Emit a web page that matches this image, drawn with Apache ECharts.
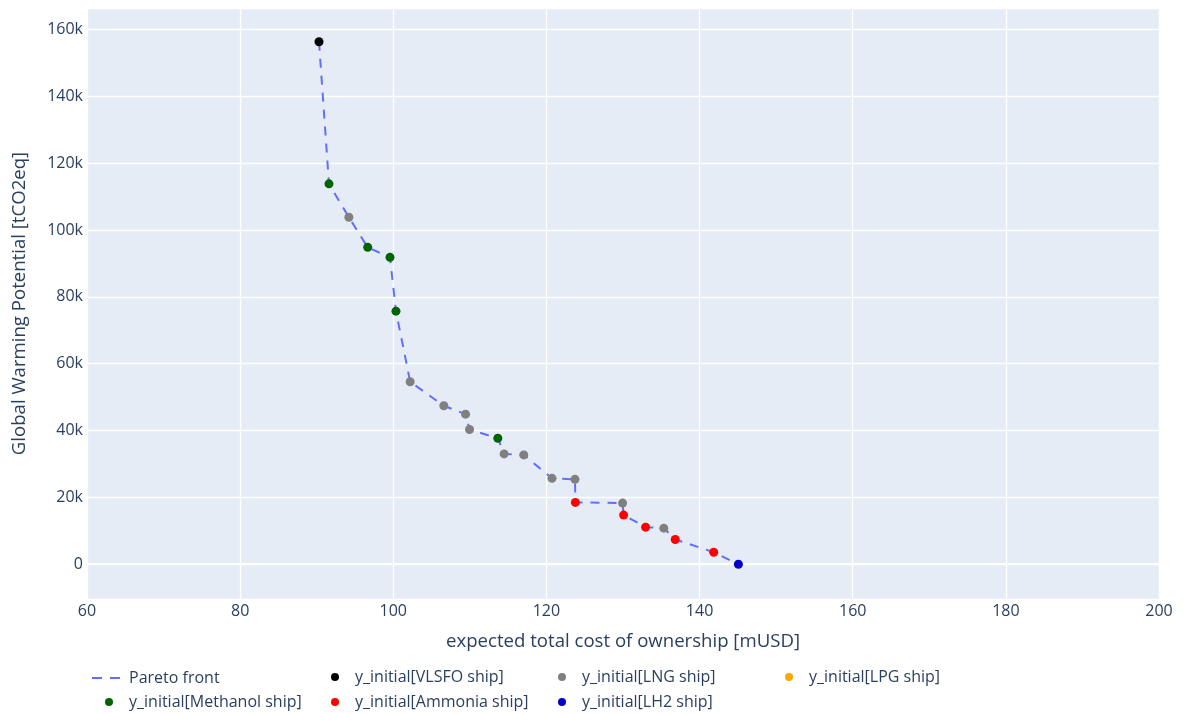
<!DOCTYPE html>
<html>
<head>
<meta charset="utf-8">
<style>
  html, body { margin: 0; padding: 0; background: #ffffff; }
  #chart { width: 1184px; height: 714px; }
</style>
<script src="https://cdn.jsdelivr.net/npm/echarts@6/dist/echarts.min.js"></script>
</head>
<body>
<div id="chart"></div>
<script>
// ---- data ----
const paretoCost = [90.3, 91.6, 94.2, 96.66, 99.57, 100.35, 102.2, 106.6, 109.44, 109.96, 113.65, 114.47, 117.04, 120.73, 123.73, 123.78, 129.95, 130.08, 132.95, 135.33, 136.82, 141.85, 145.07];
const paretoGwp  = [156300, 113800, 103800, 94800, 91800, 75700, 54600, 47400, 44900, 40300, 37700, 33000, 32700, 25700, 25400, 18500, 18300, 14700, 11100, 10800, 7400, 3600, 0];

const vlsfoCost = [90.3];
const vlsfoGwp  = [156300];
const lngCost = [94.2, 102.2, 106.6, 109.44, 109.96, 114.47, 117.04, 120.73, 123.73, 129.95, 135.33];
const lngGwp  = [103800, 54600, 47400, 44900, 40300, 33000, 32700, 25700, 25400, 18300, 10800];
const lpgCost = [];
const lpgGwp  = [];
const methanolCost = [91.6, 96.66, 99.57, 100.35, 113.65];
const methanolGwp  = [113800, 94800, 91800, 75700, 37700];
const ammoniaCost = [123.78, 130.08, 132.95, 136.82, 141.85];
const ammoniaGwp  = [18500, 14700, 11100, 7400, 3600];
const lh2Cost = [145.07];
const lh2Gwp  = [0];

const xTicks = [60, 80, 100, 120, 140, 160, 180, 200];
const yTicks = [0, 20000, 40000, 60000, 80000, 100000, 120000, 140000, 160000];

const seriesNames = ['Pareto front', 'y_initial[VLSFO ship]', 'y_initial[LNG ship]', 'y_initial[LPG ship]',
                     'y_initial[Methanol ship]', 'y_initial[Ammonia ship]', 'y_initial[LH2 ship]'];

// ---- build ----
const zip = (xs, ys) => xs.map((x, i) => [x, ys[i]]);
const FONT = '"Open Sans", "Noto Sans", sans-serif';
const TXT = '#2a3f5f';

function scatter(name, xs, ys, color) {
  return {
    name: name, type: 'scatter', data: zip(xs, ys),
    symbol: 'circle', symbolSize: 9,
    itemStyle: { color: color, opacity: 1 },
    z: 3
  };
}

function legendAt(name, left, top, isLine) {
  return {
    data: [isLine ? { name: name, icon: 'path://M0,0h10v2h-10z M18,0h10v2h-10z' } : name],
    left: left, top: top, orient: 'horizontal',
    itemWidth: isLine ? 28 : 30, itemHeight: isLine ? 2.5 : 8, padding: 0, itemGap: 0,
    textStyle: { fontFamily: FONT, fontSize: 16, color: TXT, padding: [0, 0, 0, isLine ? 4 : 0] },
    selectedMode: false
  };
}

const chart = echarts.init(document.getElementById('chart'), null, { renderer: 'canvas' });
chart.setOption({
  backgroundColor: '#ffffff',
  animation: false,
  textStyle: { fontFamily: FONT },
  grid: {
    left: 87, right: 25, top: 8, bottom: 115,
    show: true, backgroundColor: '#E5ECF6', borderWidth: 0
  },
  xAxis: {
    type: 'value', min: xTicks[0], max: xTicks[xTicks.length - 1], interval: 20,
    name: 'expected total cost of ownership [mUSD]', nameLocation: 'middle', nameGap: 33,
    nameTextStyle: { fontFamily: FONT, fontSize: 18.6, color: TXT },
    axisLine: { show: false }, axisTick: { show: false },
    axisLabel: { fontFamily: FONT, fontSize: 16, color: TXT, margin: 4 },
    splitLine: { show: true, lineStyle: { color: '#ffffff', width: 1.3 } }
  },
  yAxis: {
    type: 'value', min: -10400, max: 166400, splitNumber: 9,
    name: 'Global Warming Potential [tCO2eq]', nameLocation: 'middle', nameGap: 58,
    nameTextStyle: { fontFamily: FONT, fontSize: 18.6, color: TXT },
    axisLine: { show: false }, axisTick: { show: false },
    axisLabel: {
      fontFamily: FONT, fontSize: 16, color: TXT, margin: 4,
      showMinLabel: false, showMaxLabel: false,
      formatter: function (v) {
        if (yTicks.indexOf(v) < 0) return '';
        return v === 0 ? '0' : (v / 1000) + 'k';
      }
    },
    splitLine: { show: true, lineStyle: { color: '#ffffff', width: 1.3 } }
  },
  legend: [
    legendAt(seriesNames[0], 92, 670, true),
    legendAt(seriesNames[1], 331, 669, false),
    legendAt(seriesNames[2], 558, 669, false),
    legendAt(seriesNames[3], 785, 669, false),
    legendAt(seriesNames[4], 105, 694, false),
    legendAt(seriesNames[5], 331, 694, false),
    legendAt(seriesNames[6], 558, 694, false)
  ],
  series: [
    {
      name: seriesNames[0], type: 'line', data: zip(paretoCost, paretoGwp),
      showSymbol: false, symbol: 'none',
      lineStyle: { color: '#636efa', width: 2, type: [9, 8] },
      itemStyle: { color: '#636efa' },
      z: 2,
      markLine: {
        silent: true, symbol: 'none', label: { show: false },
        lineStyle: { color: '#ffffff', width: 2.2, type: 'solid' },
        data: [{ yAxis: 0 }], z: 1
      }
    },
    scatter(seriesNames[1], vlsfoCost, vlsfoGwp, '#000000'),
    scatter(seriesNames[2], lngCost, lngGwp, '#808080'),
    scatter(seriesNames[3], lpgCost, lpgGwp, '#FFA500'),
    scatter(seriesNames[4], methanolCost, methanolGwp, '#006400'),
    scatter(seriesNames[5], ammoniaCost, ammoniaGwp, '#FF0000'),
    scatter(seriesNames[6], lh2Cost, lh2Gwp, '#0000CD')
  ]
});
</script>
</body>
</html>
